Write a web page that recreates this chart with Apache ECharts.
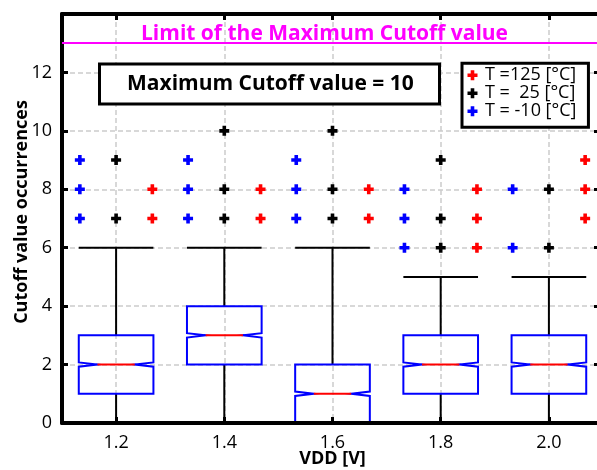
<!DOCTYPE html>
<html>
<head>
<meta charset="utf-8">
<script src="https://cdn.jsdelivr.net/npm/echarts@6/dist/echarts.min.js"></script>
<style>
html,body{margin:0;padding:0;background:#fff;}
#chart{width:597px;height:470px;}
</style>
</head>
<body>
<div id="chart"></div>
<script>
// ---- data ----
const vdd = [1.2, 1.4, 1.6, 1.8, 2.0];
const xTicks = [1.2, 1.4, 1.6, 1.8, 2.0];
const whiskerLow = [0, 0, 0, 0, 0];
const q1 = [1, 2, 0, 1, 1];
const median = [2, 3, 1, 2, 2];
const q3 = [3, 4, 2, 3, 3];
const whiskerHigh = [6, 6, 6, 5, 5];
const notchLow = [1.925, 2.925, 0.925, 1.925, 1.925];
const notchHigh = [2.075, 3.075, 1.075, 2.075, 2.075];

const tempNames = ['T =125 [°C]', 'T =  25 [°C]', 'T = -10 [°C]'];
const outliersT125 = [[1.2,7],[1.2,8],[1.4,7],[1.4,8],[1.6,7],[1.6,8],[1.8,6],[1.8,7],[1.8,8],[2.0,7],[2.0,8],[2.0,9]];
const outliersT25 = [[1.2,7],[1.2,9],[1.4,7],[1.4,8],[1.4,10],[1.6,7],[1.6,8],[1.6,10],[1.8,6],[1.8,7],[1.8,9],[2.0,6],[2.0,8]];
const outliersTm10 = [[1.2,7],[1.2,8],[1.2,9],[1.4,7],[1.4,8],[1.4,9],[1.6,7],[1.6,8],[1.6,9],[1.8,6],[1.8,7],[1.8,8],[2.0,6],[2.0,8]];
const limitValue = 13;
const limitText = 'Limit of the Maximum Cutoff value';
const maxText = 'Maximum Cutoff value = 10';

// ---- styling / layout ----
const FONT = '"Open Sans", "Noto Sans", sans-serif';
const BOX_HALF = 0.069;      // half box width in x units
const DODGE = 0.067;          // outlier group offset in x units
const PLUS = 'path://M3.2,0H6.8V3.2H10V6.8H6.8V10H3.2V6.8H0V3.2H3.2Z';
const GRID_LINE = {show: true, lineStyle: {color: '#cccccc', width: 1.5, type: [5, 3]}};

const boxData = vdd.map((v, i) => [v, whiskerLow[i], q1[i], median[i], q3[i], whiskerHigh[i], notchLow[i], notchHigh[i]]);

function renderBox(params, api) {
  const x = api.value(0);
  const lo = api.value(1), a = api.value(2), m = api.value(3), b = api.value(4), hi = api.value(5);
  const nl = api.value(6), nh = api.value(7);
  const P = (xv, yv) => api.coord([xv, yv]);
  const hw = BOX_HALF, nw = BOX_HALF / 2;
  const children = [];
  const black = {stroke: '#000', lineWidth: 2, fill: null};
  if (hi > b) {
    children.push({type: 'polyline', shape: {points: [P(x, b), P(x, hi)]}, style: black});
    children.push({type: 'polyline', shape: {points: [P(x - hw, hi), P(x + hw, hi)]}, style: black});
  }
  if (lo < a) {
    children.push({type: 'polyline', shape: {points: [P(x, a), P(x, lo)]}, style: black});
    children.push({type: 'polyline', shape: {points: [P(x - hw, lo), P(x + hw, lo)]}, style: black});
  }
  const pts = [
    P(x - hw, b), P(x + hw, b), P(x + hw, nh), P(x + nw, m), P(x + hw, nl),
    P(x + hw, a), P(x - hw, a), P(x - hw, nl), P(x - nw, m), P(x - hw, nh)
  ];
  children.push({type: 'polygon', shape: {points: pts}, style: {stroke: '#0000ff', lineWidth: 2, fill: null}});
  children.push({type: 'polyline', shape: {points: [P(x - nw, m), P(x + nw, m)]}, style: {stroke: '#ff0000', lineWidth: 2, fill: null}});
  return {type: 'group', children: children};
}

function dodge(list, off) {
  return list.map(d => [d[0] + off, d[1]]);
}

const chart = echarts.init(document.getElementById('chart'), null, {renderer: 'canvas'});
const xBase = {type: 'value', min: 1.1, max: 2.1};
const option = {
  animation: false,
  backgroundColor: '#fff',
  textStyle: {fontFamily: FONT},
  grid: {left: 62, right: -6, top: 14, bottom: 47, containLabel: false, outerBoundsMode: 'none'},
  title: [
    {
      text: limitText, left: 141, top: 24, padding: 0,
      textStyle: {color: '#ff00ff', fontSize: 21, fontWeight: 'bold', fontFamily: FONT}
    },
    {
      text: maxText, left: 99, top: 63.5, padding: [10, 26, 10, 28],
      borderColor: '#000', borderWidth: 3, backgroundColor: '#fff',
      textStyle: {color: '#000', fontSize: 21, fontWeight: 'bold', fontFamily: FONT}
    }
  ],
  legend: {
    orient: 'vertical', left: 462, top: 63.3,
    padding: [3, 12, 7, 5.5], itemGap: 0,
    borderColor: '#000', borderWidth: 3, backgroundColor: '#fff',
    itemWidth: 15, itemHeight: 10,
    itemStyle: {opacity: 1},
    textStyle: {fontSize: 18, color: '#000', fontFamily: FONT, lineHeight: 17},
    data: tempNames.map(n => ({name: n, icon: PLUS}))
  },
  xAxis: [
    Object.assign({}, xBase, {
      position: 'bottom',
      name: 'VDD [V]', nameLocation: 'middle', nameGap: 27, nameMoveOverlap: false,
      nameTextStyle: {fontSize: 18, fontWeight: 'bold', color: '#000', fontFamily: FONT},
      axisLine: {show: false},
      axisTick: {show: false, customValues: xTicks},
      axisLabel: {customValues: xTicks, fontSize: 18, color: '#000', margin: 11, fontFamily: FONT,
                  formatter: v => v.toFixed(1)},
      splitLine: GRID_LINE
    }),
    Object.assign({}, xBase, {
      position: 'bottom', offset: 0, z: 10,
      axisLine: {show: true, lineStyle: {color: '#000', width: 4}},
      axisTick: {show: true, inside: true, length: 6, lineStyle: {color: '#000', width: 3}, customValues: xTicks},
      axisLabel: {show: false, customValues: xTicks},
      splitLine: {show: false}
    }),
    Object.assign({}, xBase, {
      position: 'top', offset: 0, z: 10,
      axisLine: {show: true, lineStyle: {color: '#000', width: 4}},
      axisTick: {show: true, inside: true, length: 6, lineStyle: {color: '#000', width: 3}, customValues: xTicks},
      axisLabel: {show: false, customValues: xTicks},
      splitLine: {show: false}
    })
  ],
  yAxis: [
    {
      type: 'value', min: 0, max: 14, interval: 2, position: 'left',
      name: 'Cutoff value occurrences', nameLocation: 'middle', nameGap: 31, nameMoveOverlap: false,
      nameTextStyle: {fontSize: 18, fontWeight: 'bold', color: '#000', fontFamily: FONT, padding: [0, 0, 0, 13]},
      axisLine: {show: true, lineStyle: {color: '#000', width: 4}},
      axisTick: {show: true, inside: true, length: 6, lineStyle: {color: '#000', width: 3}},
      axisLabel: {fontSize: 18, color: '#000', margin: 10, showMaxLabel: false, fontFamily: FONT},
      splitLine: GRID_LINE
    },
    {
      type: 'value', min: 0, max: 14, interval: 2, position: 'right', offset: 0,
      axisLine: {show: true, lineStyle: {color: '#000', width: 4}},
      axisTick: {show: true, inside: true, length: 9, lineStyle: {color: '#000', width: 3}},
      axisLabel: {show: false},
      splitLine: {show: false}
    }
  ],
  series: [
    {
      type: 'custom', name: 'box', xAxisIndex: 0, yAxisIndex: 0,
      renderItem: renderBox, data: boxData, z: 3,
      encode: {x: 0, y: [1, 2, 3, 4, 5]},
      markLine: {
        silent: true, symbol: 'none', animation: false,
        label: {show: false},
        lineStyle: {color: '#ff00ff', width: 2, type: 'solid'},
        data: [{yAxis: limitValue}]
      }
    },
    {
      type: 'scatter', name: tempNames[0], data: dodge(outliersT125, DODGE),
      symbol: PLUS, symbolSize: 10, itemStyle: {color: '#ff0000', opacity: 1}, z: 5
    },
    {
      type: 'scatter', name: tempNames[1], data: dodge(outliersT25, 0),
      symbol: PLUS, symbolSize: 10, itemStyle: {color: '#000000', opacity: 1}, z: 5
    },
    {
      type: 'scatter', name: tempNames[2], data: dodge(outliersTm10, -DODGE),
      symbol: PLUS, symbolSize: 10, itemStyle: {color: '#0000ff', opacity: 1}, z: 5
    }
  ]
};
chart.setOption(option);
</script>
</body>
</html>
